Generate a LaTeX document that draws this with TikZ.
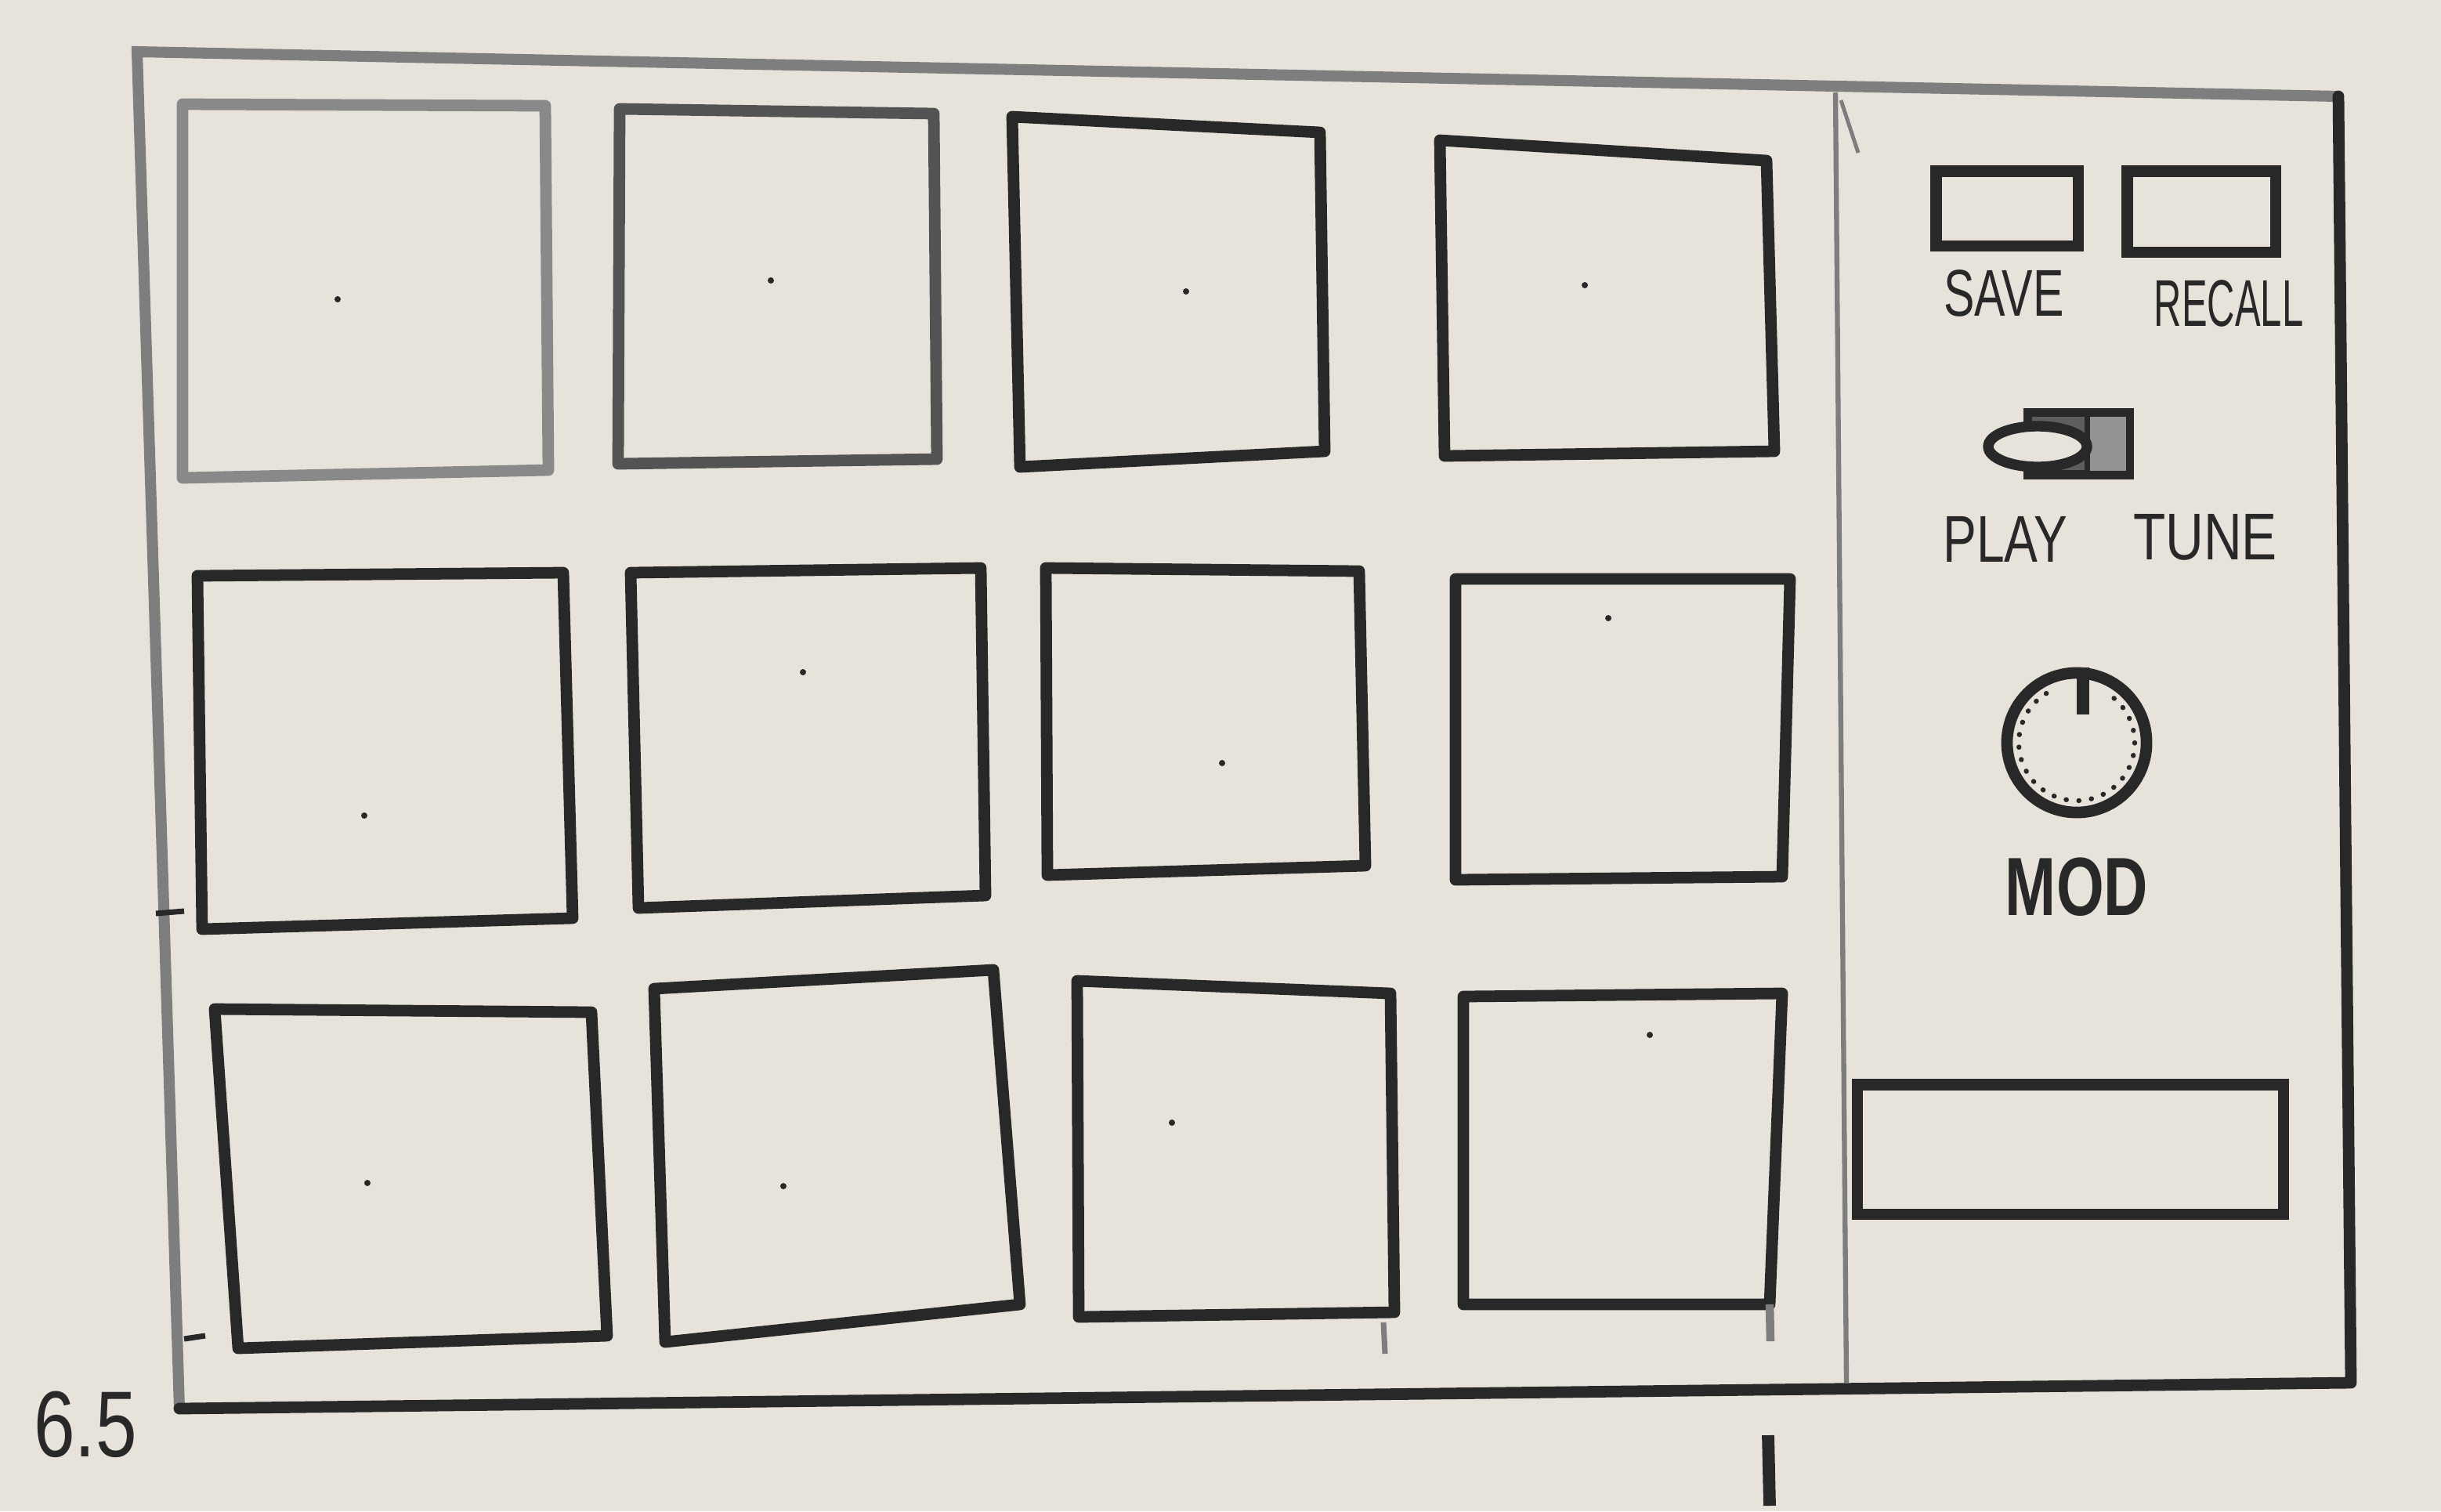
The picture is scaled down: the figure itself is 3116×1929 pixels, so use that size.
\documentclass[tikz,border=0pt]{standalone}
\usepackage{fontspec}
\setmainfont{Liberation Sans}
\usetikzlibrary{positioning}
\definecolor{paper}{RGB}{231,227,219}
\definecolor{ink}{RGB}{40,40,40}
\definecolor{pencil}{RGB}{125,125,125}
\tikzset{
  pad/.style={line width=4.2pt, line join=round},
  btn/.style={draw=ink, line width=4pt, inner sep=0pt},
  lbl/.style={inner sep=0pt, text=ink, font=\fontsize{24}{26}\selectfont},
}

\begin{document}
\begin{tikzpicture}[x=0.01cm,y=-0.01cm]
  \fill[paper] (0,0) rectangle (3116,1929);
  \useasboundingbox (0,0) rectangle (3116,1929);
  % case outline
  \coordinate (tl) at (175,66);
  \coordinate (tr) at (2985,123);
  \coordinate (br) at (3001,1765);
  \coordinate (bl) at (229,1798);
  \draw[draw=ink!60, line width=4pt, line cap=round] (bl) -- (tl) -- (tr);
  \draw[draw=ink, line width=4.2pt, line cap=round, line join=round] (tr) -- (br) -- (bl);
  \draw[pencil, line width=1.8pt] (2343,118) -- (2357,1765);
  \draw[pencil, line width=1.4pt] (2350,128) -- (2372,195);
  % pads
  \foreach \ax/\ay/\bx/\by/\cx/\cy/\dx/\dy/\tone in {
      233/133/696/135/700/600/233/610/ink!55,
      791/139/1192/145/1196/586/789/592/ink!80,
      1292/149/1685/169/1691/576/1302/596/ink,
      1838/179/2255/205/2265/576/1844/582/ink,
      252/735/719/731/731/1172/258/1186/ink,
      805/731/1252/725/1258/1143/815/1159/ink,
      1335/725/1735/729/1743/1105/1337/1117/ink,
      1858/739/2285/739/2275/1119/1858/1123/ink,
      274/1288/755/1292/775/1705/304/1721/ink,
      835/1262/1268/1238/1302/1665/849/1713/ink,
      1375/1252/1775/1268/1780/1675/1377/1681/ink,
      1868/1272/2275/1268/2259/1665/1868/1665/ink}
    \draw[pad, draw=\tone] (\ax,\ay) -- (\bx,\by) -- (\cx,\cy) -- (\dx,\dy) -- cycle;
  \foreach \x/\y in {431/382,984/358,1514/372,2023/364,465/1041,1025/858,
      1560/974,2053/789,469/1510,1000/1514,1496/1433,2106/1321}
    \fill[ink] (\x,\y) circle[radius=4];
  % stray marks
  \draw[ink, line width=2pt] (199,1166) -- (235,1163);
  \draw[ink, line width=2pt] (235,1709) -- (262,1705);
  \draw[pencil, line width=2pt] (1766,1688) -- (1768,1728);
  \draw[pencil, line width=3pt] (2259,1665) -- (2260,1712);
  \draw[ink, line width=4.5pt] (2257,1832) -- (2259,1922);
  \node[lbl, font=\fontsize{34}{36}\selectfont] (ratio) at (109,1818) {\scalebox{0.79}[1]{6.5}};
  % memory buttons
  \node[btn, minimum width=1.81cm, minimum height=0.95cm] (save) at (2562,266) {};
  \node[btn, minimum width=1.89cm, minimum height=1.03cm] (recall) at (2810,270) {};
  \node[lbl] (savetxt) at (2558,374) {\scalebox{0.70}[1]{SAVE}};
  \node[lbl] (recalltxt) at (2845,387) {\scalebox{0.58}[1]{RECALL}};
  % play/tune switch
  \node[draw=ink, fill=ink!75, line width=3.4pt, inner sep=0pt,
        minimum width=1.29cm, minimum height=0.79cm] (switch) at (2653,566) {};
  \fill[ink!50] (2666,532) rectangle (2714,601);
  \draw[ink, line width=2pt] (2664,529) -- (2664,604);
  \draw[ink, fill=paper, line width=3.8pt] (2601,570) ellipse [x radius=63, y radius=26];
  \node[lbl] (playtxt) at (2560,688) {\scalebox{0.76}[1]{PLAY}};
  \node[lbl] (tunetxt) at (2815,686) {\scalebox{0.80}[1]{TUNE}};
  % mod knob
  \node[circle, draw=ink, line width=4.2pt, inner sep=0pt, minimum size=1.78cm] (knob) at (2651,948) {};
  \draw[ink, line width=1.8pt, line cap=round, dash pattern=on 0.1pt off 4.5pt]
    (2651,948) ++(-50:74) arc[start angle=-50, end angle=240, radius=74];
  \draw[ink, line width=4.5pt] ([xshift=0.08cm]knob.north) -- ++(0,60);
  \node[lbl, font=\bfseries\fontsize{30}{32}\selectfont, below=0.5cm of knob] (modtxt) {\scalebox{0.74}[1]{MOD}};
  % display
  \node[btn, minimum width=5.44cm, minimum height=1.65cm] (display) at (2643,1467) {};
\end{tikzpicture}
\end{document}
